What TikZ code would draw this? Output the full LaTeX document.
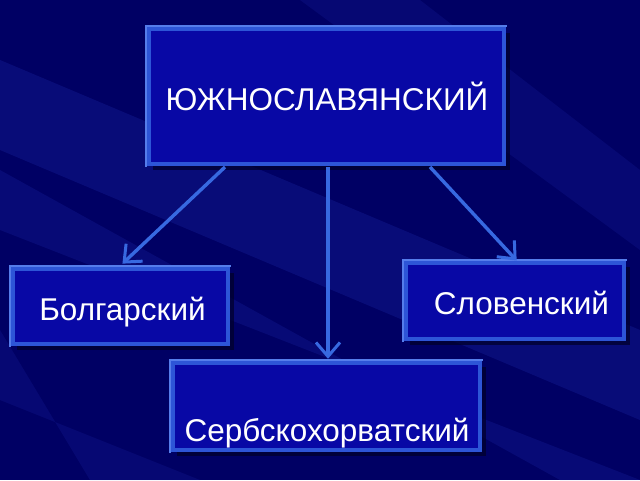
\documentclass[tikz,border=0pt]{standalone}
\usepackage{fontspec}
\setmainfont{Liberation Sans}
\usetikzlibrary{arrows.meta}
\definecolor{bgdark}{RGB}{0,0,100}
\definecolor{bglight}{RGB}{25,35,160}
\definecolor{boxfill}{RGB}{8,8,165}
\definecolor{boxedge}{RGB}{45,85,215}
\definecolor{boxhi}{RGB}{85,125,235}
\definecolor{boxshadow}{RGB}{0,0,40}
\definecolor{arrowcol}{RGB}{55,105,225}
\tikzset{
  langbox/.style={draw=boxedge, line width=4.5pt, fill=boxfill, inner sep=0pt},
  langtext/.style={text=white, inner sep=0pt, font=\fontsize{31.5}{34}\selectfont},
  link/.style={draw=arrowcol, line width=3.4pt,
    -{Straight Barb[length=14pt,width=24pt,line width=3pt]}, shorten >=2pt},
}
\begin{document}
\begin{tikzpicture}[x=1pt,y=-1pt]
\useasboundingbox (0,0) rectangle (640,480);
% background
\fill[bgdark] (0,0) rectangle (640,480);
\fill[bglight,opacity=0.35] (0,60) -- (0,150) -- (640,420) -- (640,330) -- cycle;
\fill[bglight,opacity=0.3] (0,170) -- (0,230) -- (640,480) -- (560,480) -- cycle;
\fill[bglight,opacity=0.25] (300,0) -- (420,0) -- (640,170) -- (640,250) -- cycle;
\fill[bglight,opacity=0.25] (0,330) -- (0,400) -- (200,480) -- (90,480) -- cycle;
% shadows
\fill[boxshadow,opacity=0.7] (153,33) rectangle (510,170);
\fill[boxshadow,opacity=0.7] (17,273) rectangle (234,350);
\fill[boxshadow,opacity=0.7] (410,267) rectangle (630,345);
\fill[boxshadow,opacity=0.7] (177,367) rectangle (486,456);
% boxes
\node[langbox, minimum width=355pt, minimum height=135pt] (south) at (326.5,96.5) {};
\node[langbox, minimum width=215pt, minimum height=75pt] (bul) at (120.5,306.5) {};
\node[langbox, minimum width=218pt, minimum height=76pt] (slo) at (515,301) {};
\node[langbox, minimum width=307pt, minimum height=87pt] (ser) at (326.5,406.5) {};
% bevel highlights
\foreach \b in {south,bul,slo,ser}{
  \draw[boxhi, line width=1.5pt] ([shift={(-0.8,0.8)}]\b.south west) -- ([shift={(-0.8,-0.8)}]\b.north west) -- ([shift={(0.8,-0.8)}]\b.north east);
}
% texts
\node[langtext, anchor=base] (southtext) at (327,110) {ЮЖНОСЛАВЯНСКИЙ};
\node[langtext, anchor=base] (bultext) at (122.5,320) {Болгарский};
\node[langtext, anchor=base] (slotext) at (521.5,314) {Словенский};
\node[langtext, anchor=base] (sertext) at (327,441) {Сербскохорватский};
% connectors
\coordinate (sl) at (225,167);
\coordinate (sm) at (328,167);
\coordinate (sr) at (430,167);
\coordinate (bl) at (121,265);
\coordinate (sr2) at (518,262);
\draw[link] (sl) -- (bl);
\draw[link] (sm) -- (ser.north -| sm);
\draw[link] (sr) -- (sr2);
\end{tikzpicture}
\end{document}
